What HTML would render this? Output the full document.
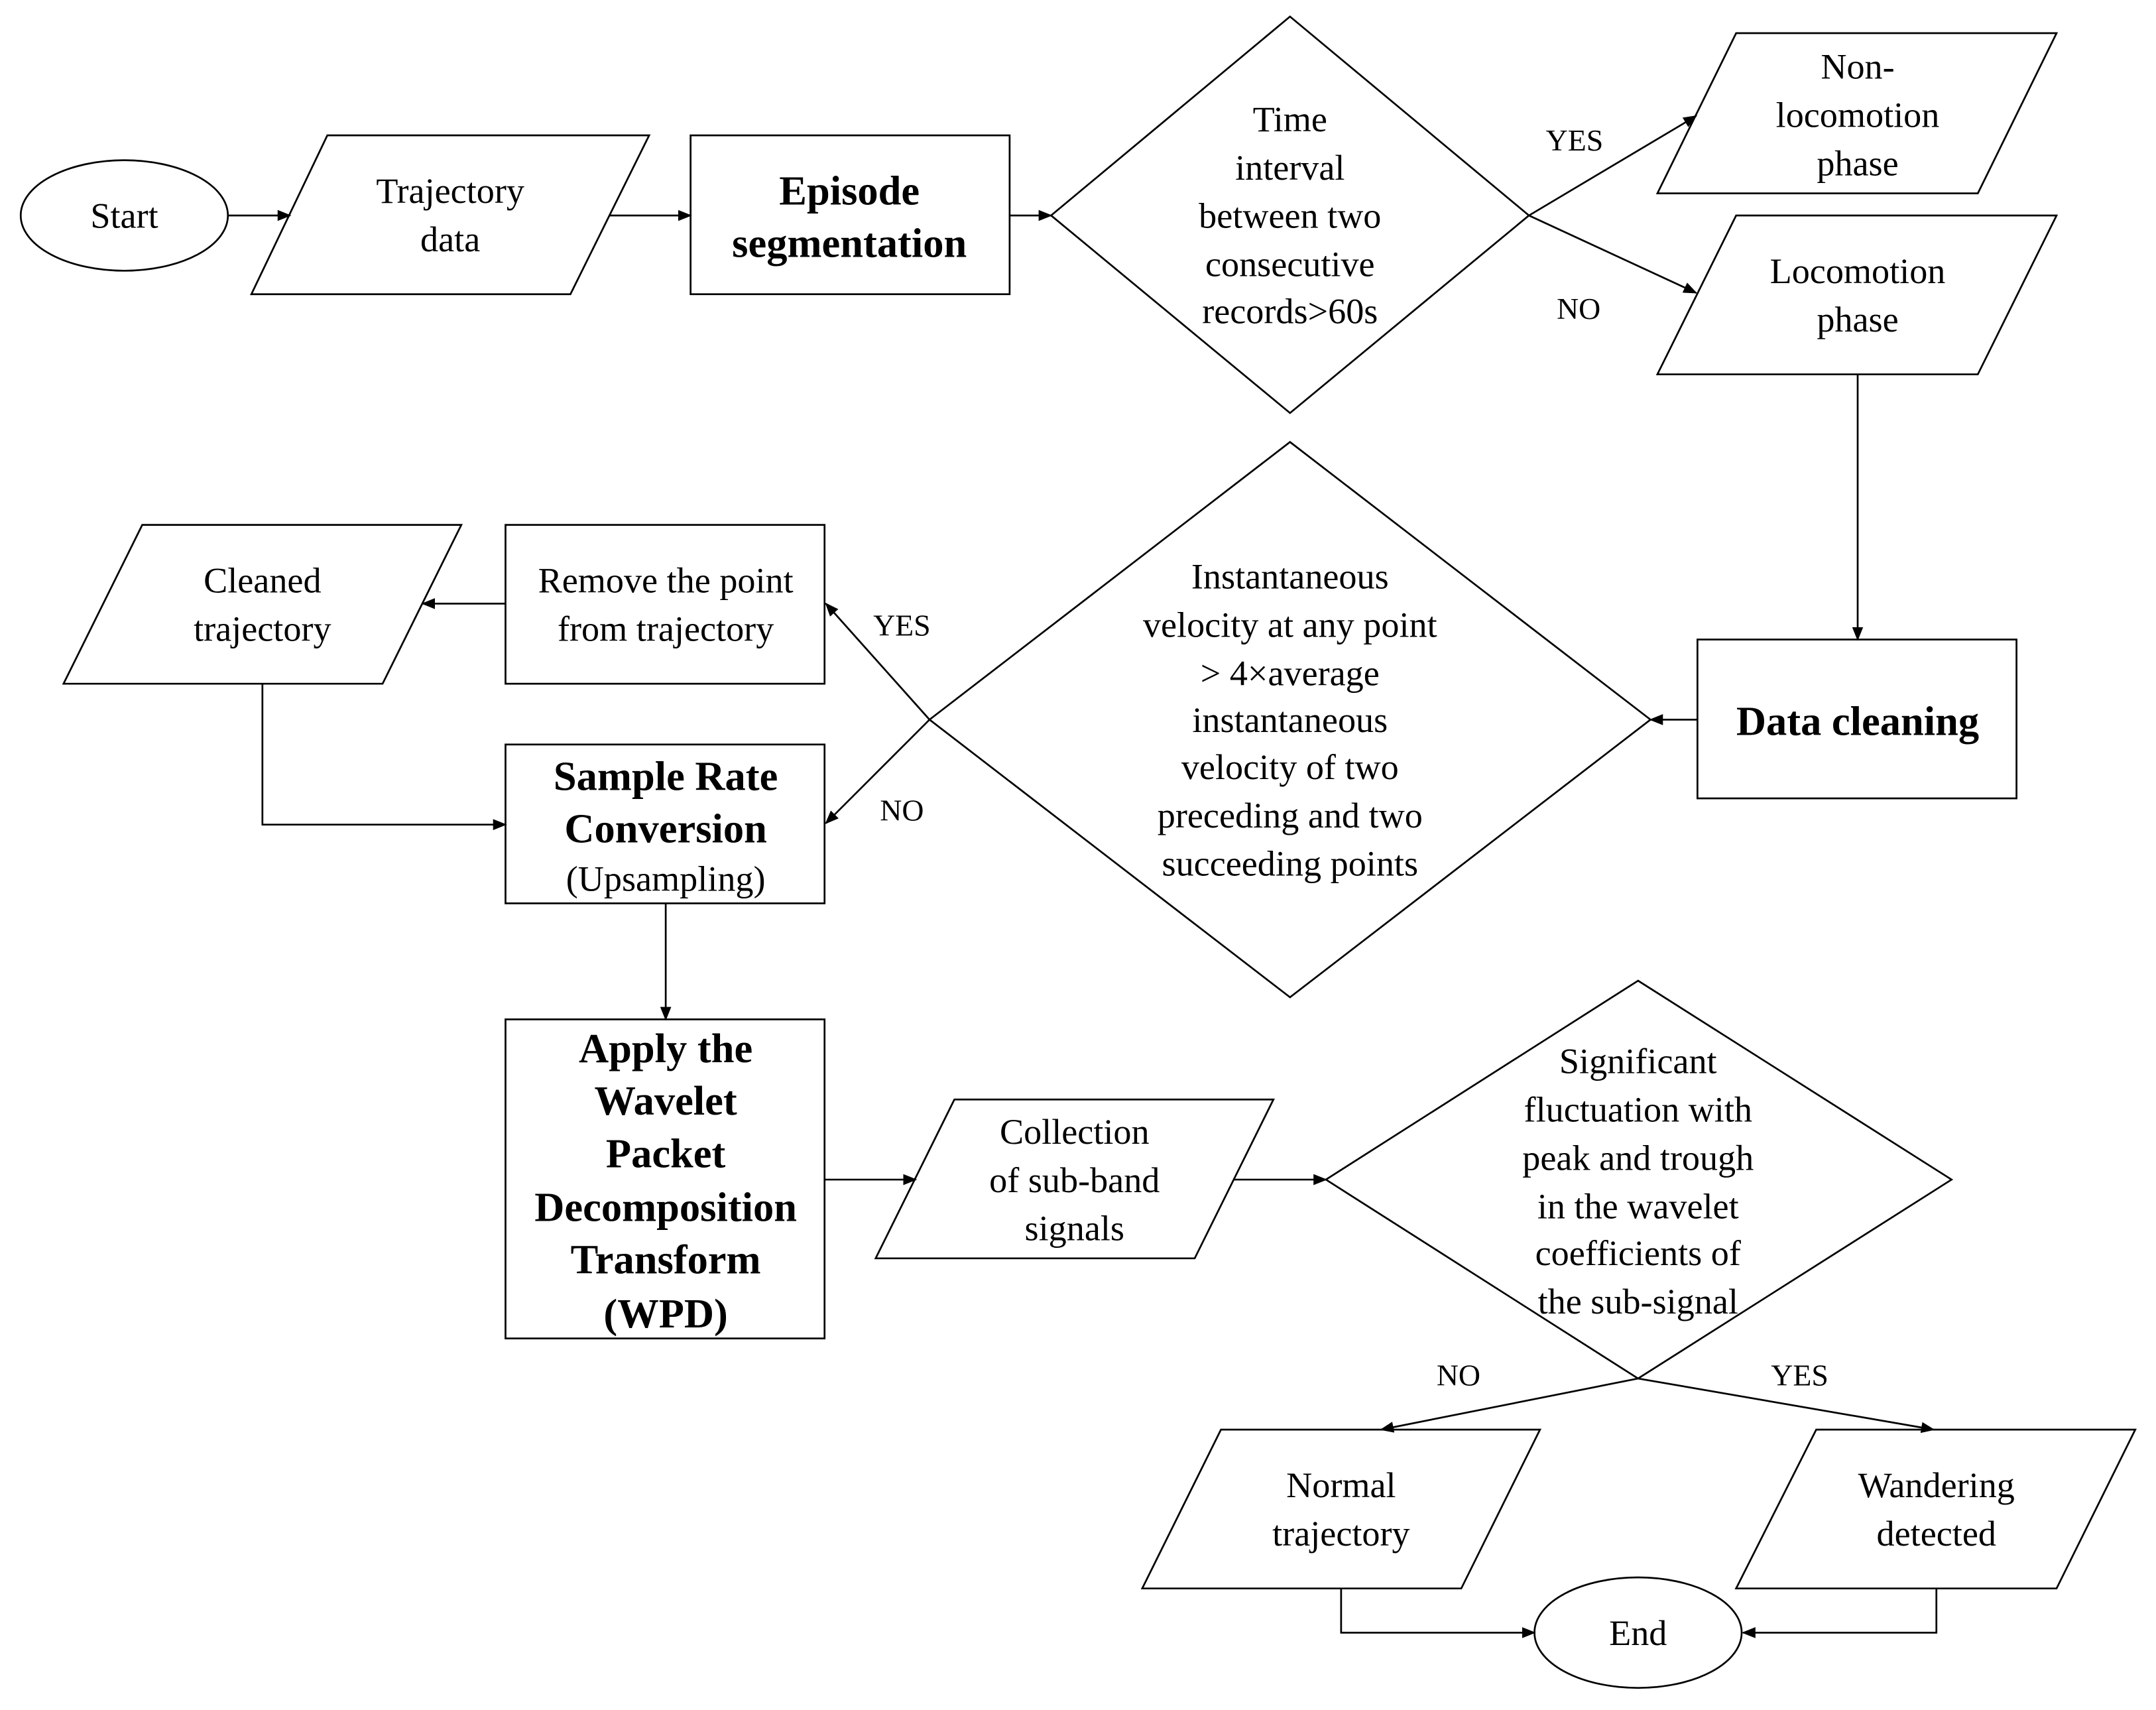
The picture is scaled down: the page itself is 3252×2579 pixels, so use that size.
<!DOCTYPE html>
<html><head><meta charset="utf-8"><style>
html,body{margin:0;padding:0;background:#fff;}
svg{display:block;}
text{font-family:"Liberation Serif",serif;font-size:26px;fill:#000;text-anchor:middle;}
.b{font-weight:bold;font-size:30px;}
.s{font-size:22px;}
</style></head><body>
<svg width="3252" height="2579" viewBox="0 0 1561 1238" preserveAspectRatio="none" xmlns="http://www.w3.org/2000/svg">
<defs><marker id="a" markerWidth="10" markerHeight="8" refX="9" refY="4" orient="auto" markerUnits="userSpaceOnUse"><path d="M0,0 L10,4 L0,8 z" fill="#000"/></marker></defs>
<g fill="none" stroke="#000" stroke-width="1.3">
<ellipse cx="90" cy="156" rx="75" ry="40"/>
<polygon points="237,98 470,98 413,213 182,213"/>
<rect x="500" y="98" width="231" height="115"/>
<polygon points="934,12 1107,156 934,299 761,156"/>
<polygon points="1257,24 1489,24 1432,140 1200,140"/>
<polygon points="1257,156 1489,156 1432,271 1200,271"/>
<rect x="1229" y="463" width="231" height="115"/>
<polygon points="934,320 1195,521 934,722 673,521"/>
<rect x="366" y="380" width="231" height="115"/>
<polygon points="103,380 334,380 277,495 46,495"/>
<rect x="366" y="539" width="231" height="115"/>
<rect x="366" y="738" width="231" height="231"/>
<polygon points="691,796 922,796 865,911 634,911"/>
<polygon points="1186,710 1413,854 1186,998 960,854"/>
<polygon points="884,1035 1115,1035 1058,1150 827,1150"/>
<polygon points="1315,1035 1546,1035 1489,1150 1257,1150"/>
<ellipse cx="1186" cy="1182" rx="75" ry="40"/>
</g>
<g fill="none" stroke="#000" stroke-width="1.3" marker-end="url(#a)">
<line x1="165" y1="156" x2="210" y2="156"/>
<line x1="441" y1="156" x2="500" y2="156"/>
<line x1="731" y1="156" x2="761" y2="156"/>
<line x1="1107" y1="156" x2="1228" y2="84"/>
<line x1="1107" y1="156" x2="1228" y2="212"/>
<line x1="1345" y1="271" x2="1345" y2="463"/>
<line x1="1229" y1="521" x2="1195" y2="521"/>
<line x1="673" y1="521" x2="598" y2="437"/>
<line x1="673" y1="521" x2="598" y2="596"/>
<line x1="366" y1="437" x2="306" y2="437"/>
<polyline points="190,495 190,597 366,597"/>
<line x1="482" y1="654" x2="482" y2="738"/>
<line x1="597" y1="854" x2="663" y2="854"/>
<line x1="893" y1="854" x2="960" y2="854"/>
<line x1="1186" y1="998" x2="1000" y2="1035"/>
<line x1="1186" y1="998" x2="1400" y2="1035"/>
<polyline points="971,1150 971,1182 1111,1182"/>
<polyline points="1402,1150 1402,1182 1262,1182"/>
</g>
<text x="90" y="165">Start</text>
<text x="326" y="147">Trajectory</text><text x="326" y="182">data</text>
<text class="b" x="615" y="148">Episode</text><text class="b" x="615" y="186">segmentation</text>
<text x="934" y="95">Time</text><text x="934" y="130">interval</text><text x="934" y="165">between two</text><text x="934" y="200">consecutive</text><text x="934" y="234">records&gt;60s</text>
<text class="s" x="1140" y="109">YES</text><text class="s" x="1143" y="231">NO</text>
<text x="1345" y="57">Non-</text><text x="1345" y="92">locomotion</text><text x="1345" y="127">phase</text>
<text x="1345" y="205">Locomotion</text><text x="1345" y="240">phase</text>
<text class="b" x="1345" y="532">Data cleaning</text>
<text x="934" y="426">Instantaneous</text><text x="934" y="461">velocity at any point</text><text x="934" y="496">&gt; 4×average</text><text x="934" y="530">instantaneous</text><text x="934" y="564">velocity of two</text><text x="934" y="599">preceding and two</text><text x="934" y="634">succeeding points</text>
<text class="s" x="653" y="460">YES</text><text class="s" x="653" y="594">NO</text>
<text x="482" y="429">Remove the point</text><text x="482" y="464">from trajectory</text>
<text x="190" y="429">Cleaned</text><text x="190" y="464">trajectory</text>
<text class="b" x="482" y="572">Sample Rate</text><text class="b" x="482" y="610">Conversion</text><text x="482" y="645">(Upsampling)</text>
<text class="b" x="482" y="769">Apply the</text><text class="b" x="482" y="807">Wavelet</text><text class="b" x="482" y="845">Packet</text><text class="b" x="482" y="884">Decomposition</text><text class="b" x="482" y="922">Transform</text><text class="b" x="482" y="961">(WPD)</text>
<text x="778" y="828">Collection</text><text x="778" y="863">of sub-band</text><text x="778" y="898">signals</text>
<text x="1186" y="777">Significant</text><text x="1186" y="812">fluctuation with</text><text x="1186" y="847">peak and trough</text><text x="1186" y="882">in the wavelet</text><text x="1186" y="916">coefficients of</text><text x="1186" y="951">the sub-signal</text>
<text class="s" x="1056" y="1003">NO</text><text class="s" x="1303" y="1003">YES</text>
<text x="971" y="1084">Normal</text><text x="971" y="1119">trajectory</text>
<text x="1402" y="1084">Wandering</text><text x="1402" y="1119">detected</text>
<text x="1186" y="1191">End</text>
</svg>
</body></html>
